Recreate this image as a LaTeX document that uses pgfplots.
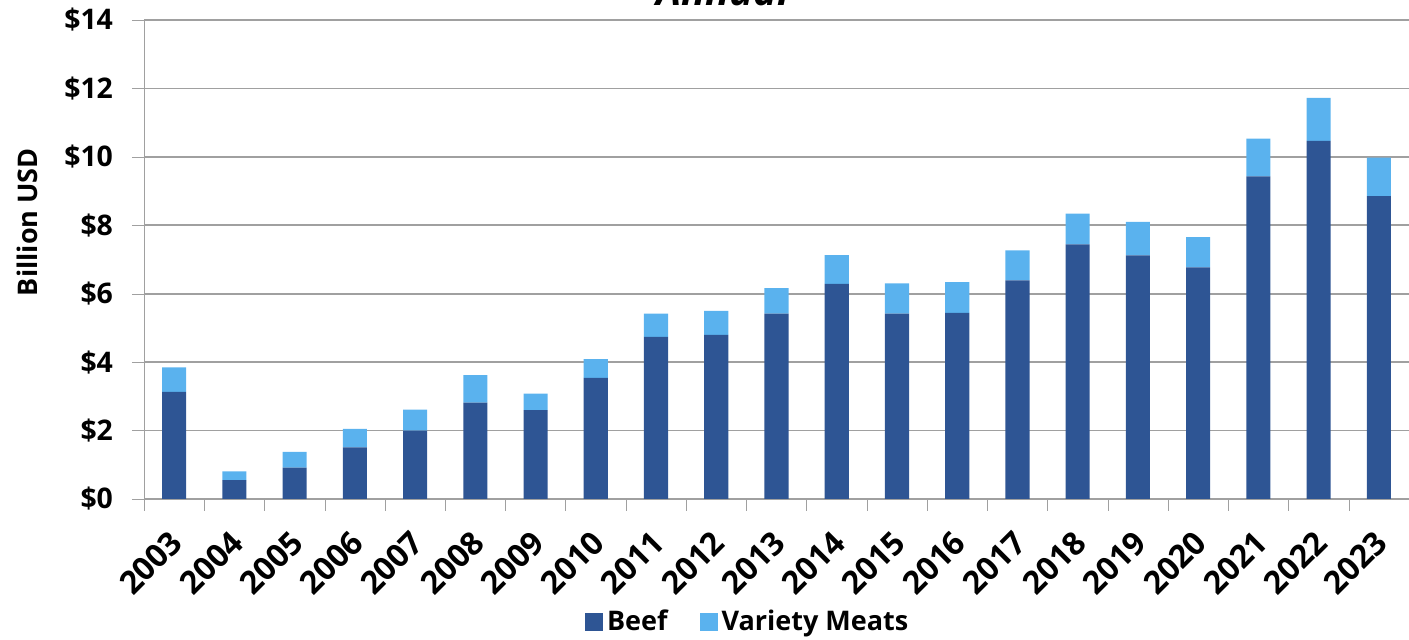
\documentclass[border=0pt]{standalone}
\usepackage{fontspec}
\setmainfont{Open Sans}
\usepackage{pgfplots}
\pgfplotsset{compat=1.18}
\definecolor{cBeef}{HTML}{2E5594}
\definecolor{cVar}{HTML}{5AB2EE}
\definecolor{cGrid}{HTML}{A0A0A0}

% values in billion USD, years 2003..2023 at x = 0..20
\pgfplotstableread{
x beef variety
0  3.13 0.72
1  0.55 0.26
2  0.92 0.46
3  1.51 0.54
4  2.00 0.61
5  2.82 0.80
6  2.60 0.48
7  3.54 0.55
8  4.74 0.68
9  4.80 0.70
10 5.42 0.74
11 6.29 0.84
12 5.42 0.88
13 5.44 0.90
14 6.39 0.88
15 7.44 0.90
16 7.12 0.98
17 6.77 0.88
18 9.43 1.10
19 10.47 1.25
20 8.85 1.13
}\trade

\newcommand{\lbl}{\fontsize{13.5}{16}\selectfont\bfseries}

\begin{document}
\begin{tikzpicture}
\begin{axis}[
  name=ax, scale only axis, width=632.5pt, height=239.5pt,
  ybar stacked, bar width=0.4,
  xmin=-0.5, xmax=20.5, ymin=0, ymax=14,
  axis x line=bottom, axis y line=left,
  axis line style={cGrid, -},
  xtick={0,...,20},
  xticklabels={2003,2004,2005,2006,2007,2008,2009,2010,2011,2012,2013,2014,2015,2016,2017,2018,2019,2020,2021,2022,2023},
  major x tick style={draw=none},
  minor xtick={-0.5,0.5,...,20.5},
  minor tick length=6pt,
  minor x tick style={cGrid},
  tick align=outside,
  ytick={0,2,...,14},
  yticklabels={\$0,\$2,\$4,\$6,\$8,\$10,\$12,\$14},
  major tick length=6pt,
  y tick style={cGrid},
  ymajorgrids, grid style={cGrid, line width=0.8pt},
  yticklabel style={font=\fontsize{14.2}{16}\selectfont\bfseries, xshift=-6pt},
  xticklabel style={font=\fontsize{16}{18}\selectfont\bfseries, rotate=45, anchor=north east, xshift=-4.8pt, yshift=-0.7pt},
  ylabel={Billion USD}, label style={font=\lbl},
  ylabel style={at={(axis description cs:-0.0925,0.578)}, anchor=center},
  legend columns=2,
  legend style={draw=none, font=\lbl, at={(axis description cs:0.478,-0.257)}, anchor=center,
    /tikz/every even column/.append style={column sep=14pt}},
  legend image code/.code={\fill[#1] (0pt,-4.5pt) rectangle (9pt,4.5pt);},
]
\addplot[fill=cBeef, draw=none] table[x=x, y=beef] {\trade};
\addlegendentry{Beef}
\addplot[fill=cVar, draw=none] table[x=x, y=variety] {\trade};
\addlegendentry{Variety Meats}
\end{axis}
\node[font=\fontsize{20}{22}\selectfont\bfseries\itshape, anchor=base] at ([xshift=289.5pt, yshift=7pt]ax.north west) {Annual};
\pgfresetboundingbox
\useasboundingbox ([xshift=-72pt, yshift=-70.5pt]ax.south west) rectangle ([yshift=10pt]ax.north east);
\end{tikzpicture}
\end{document}
